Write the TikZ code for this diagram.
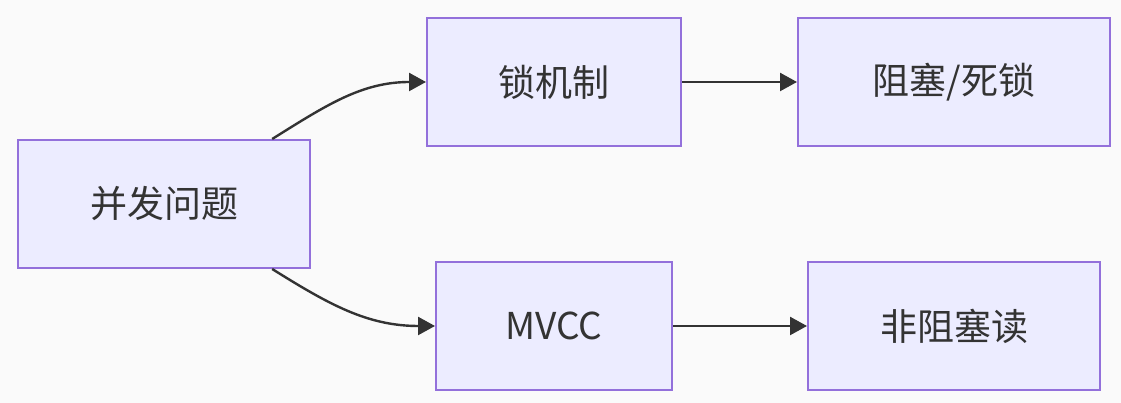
\documentclass[tikz,border=0pt]{standalone}
\usepackage{fontspec}
\setmainfont{Noto Sans CJK SC}
\usetikzlibrary{arrows.meta}
\definecolor{boxline}{HTML}{9370DB}
\definecolor{boxfill}{HTML}{ECECFF}
\definecolor{ink}{HTML}{333333}
\definecolor{bg}{HTML}{FAFAFA}
\begin{document}
\begin{tikzpicture}[x=1pt,y=1pt,
        box/.style={draw=boxline,fill=boxfill,line width=2pt,minimum height=128pt,text=ink,font=\fontsize{37}{44}\selectfont},
        link/.style={draw=ink,line width=2.4pt,-{Triangle[length=17pt,width=18pt]}}]
                \fill[bg] (0,0) rectangle (1121,403);
                \useasboundingbox (0,0) rectangle (1121,403);
                \node[box,minimum width=292pt] (issue) at (164,199) {并发问题};
                \node[box,minimum width=254pt] (lock) at (554,321) {锁机制};
                \node[box,minimum width=312pt] (block) at (954,321) {阻塞/死锁};
                \node[box,minimum width=236pt] (mvcc) at (554,77) {MVCC};
                \node[box,minimum width=292pt] (read) at (954,77) {非阻塞读};
                \draw[link] (issue.31) to[out=32,in=180] (lock.west);
                \draw[link] (lock.east) -- (block.west);
                \draw[link] (issue.-31) to[out=-32,in=180] (mvcc.west);
                \draw[link] (mvcc.east) -- (read.west);
            \end{tikzpicture}
\end{document}
